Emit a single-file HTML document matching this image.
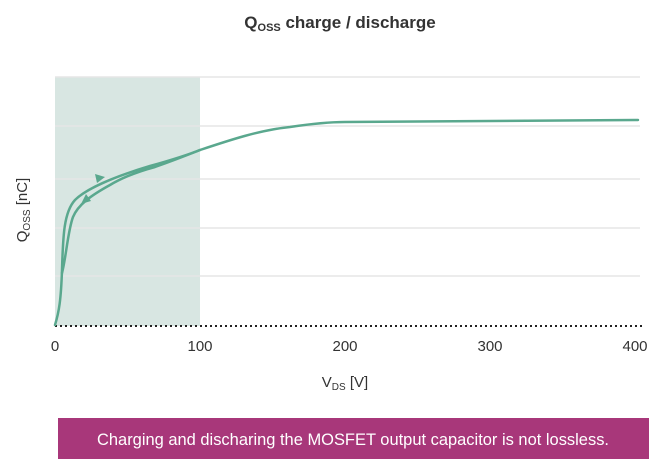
<!DOCTYPE html>
<html><head><meta charset="utf-8"><style>
body{margin:0;background:#fff;width:666px;height:466px;overflow:hidden;font-family:"Liberation Sans",sans-serif;}
</style></head><body>
<svg width="666" height="466" xmlns="http://www.w3.org/2000/svg" font-family="Liberation Sans, sans-serif">
<text x="340" y="28" text-anchor="middle" font-size="17" font-weight="bold" fill="#333">Q<tspan font-size="11" dy="3">OSS</tspan><tspan dy="-3"> charge / discharge</tspan></text>
<rect x="55" y="77" width="145" height="249" fill="#d8e6e2"/>
<g stroke="#e6e6e6" stroke-width="1.5">
<line x1="55" y1="77" x2="640" y2="77"/>
<line x1="55" y1="126" x2="640" y2="126"/>
<line x1="55" y1="179" x2="640" y2="179"/>
<line x1="55" y1="228" x2="640" y2="228"/>
<line x1="55" y1="276" x2="640" y2="276"/>
</g>
<line x1="55" y1="326" x2="642" y2="326" stroke="#222" stroke-width="2" stroke-dasharray="2,3"/>
<g fill="none" stroke="#5aa88e" stroke-width="2.5" stroke-linecap="round">
<path d="M55,325 C59,312 61,300 62,270 C63,235 64,212 75,200 C85,190 110,178 150,166 C175,159 190,154 200,150"/>
<path d="M62,273 C66,258 68,230 73,217 C78,205 90,196 110,185 C125,176 140,171 155,167 C175,160 190,154 200,150"/>
<path d="M200,150 C230,140 260,130 290,127 C310,124 330,122 345,122 L638,120"/>
</g>
<polygon points="105,177 95,174 97,183" fill="#5aa88e"/>
<polygon points="81,204 86,194 91,201" fill="#5aa88e"/>
<g font-size="15" fill="#333" text-anchor="middle">
<text x="55" y="351">0</text><text x="200" y="351">100</text><text x="345" y="351">200</text><text x="490" y="351">300</text><text x="635" y="351">400</text>
<text x="345" y="387">V<tspan font-size="10" dy="3">DS</tspan><tspan dy="-3"> [V]</tspan></text>
</g>
<text transform="translate(27,210) rotate(-90)" font-size="15" fill="#333" text-anchor="middle">Q<tspan font-size="10" dy="3">OSS</tspan><tspan dy="-3"> [nC]</tspan></text>
<rect x="58" y="418" width="591" height="41" fill="#a8377a"/>
<text x="353" y="445" text-anchor="middle" font-size="16.5" fill="#fff" textLength="512" lengthAdjust="spacingAndGlyphs">Charging and discharing the MOSFET output capacitor is not lossless.</text>
</svg>
</body></html>
